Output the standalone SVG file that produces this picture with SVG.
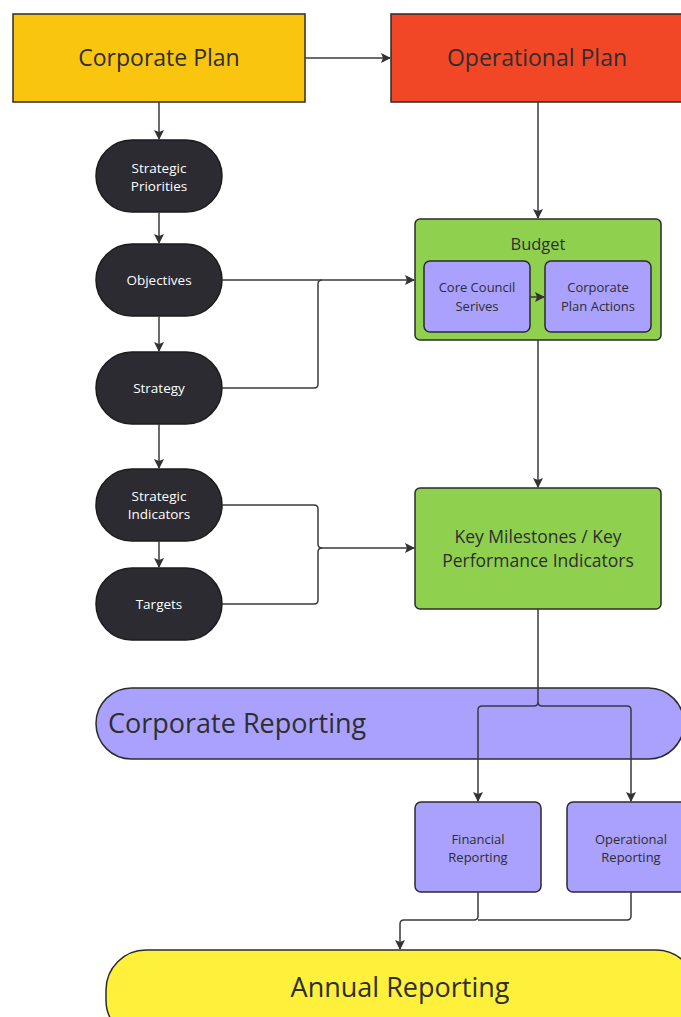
<svg xmlns="http://www.w3.org/2000/svg" width="681" height="1017" viewBox="0 0 681 1017">
<style>
text{font-family:"Open Sans","Noto Sans","Liberation Sans",sans-serif;fill:#2e2e2e;text-anchor:middle}
.pill{fill:#2b2b31;stroke:#1b1b1b;stroke-width:1.5}
.pt{fill:#ffffff;font-size:13.5px}
.ln{fill:none;stroke:#3a3a3a;stroke-width:1.5}
.sb{stroke:#2b2b2b;stroke-width:1.5}
.purple{fill:#a9a1fd}
.green{fill:#8fd14f}
</style>
<defs>
<marker id="ah" viewBox="0 0 10 10" refX="9" refY="5" markerWidth="10" markerHeight="10" markerUnits="userSpaceOnUse" orient="auto">
<path d="M0,0 L10,5 L0,10 L2,5 z" fill="#333"/>
</marker>
</defs>
<g id="corporate-plan">
<rect x="13" y="14" width="292" height="88" fill="#f9c50f" class="sb"/>
<text x="159" y="66" font-size="23">Corporate Plan</text>
</g>
<g id="operational-plan">
<rect x="391" y="14" width="293" height="88" fill="#f24727" class="sb"/>
<text x="537" y="66" font-size="23">Operational Plan</text>
</g>
<g id="strategic-priorities">
<rect x="96" y="140" width="126" height="72" rx="36" class="pill"/>
<text x="159" y="173" class="pt">Strategic</text>
<text x="159" y="191" class="pt">Priorities</text>
</g>
<g id="objectives">
<rect x="96" y="244" width="126" height="72" rx="36" class="pill"/>
<text x="159" y="285" class="pt">Objectives</text>
</g>
<g id="strategy">
<rect x="96" y="352" width="126" height="72" rx="36" class="pill"/>
<text x="159" y="393" class="pt">Strategy</text>
</g>
<g id="strategic-indicators">
<rect x="96" y="469" width="126" height="72" rx="36" class="pill"/>
<text x="159" y="501" class="pt">Strategic</text>
<text x="159" y="519" class="pt">Indicators</text>
</g>
<g id="targets">
<rect x="96" y="568" width="126" height="72" rx="36" class="pill"/>
<text x="159" y="609" class="pt">Targets</text>
</g>
<g id="budget">
<rect x="415" y="219" width="246" height="121" rx="5" class="green sb"/>
<text x="538" y="250" font-size="16.5">Budget</text>
</g>
<g id="core-council-serives">
<rect x="424" y="261" width="106" height="71" rx="6" class="purple sb"/>
<text x="477" y="292" font-size="13">Core Council</text>
<text x="477" y="311" font-size="13">Serives</text>
</g>
<g id="corporate-plan-actions">
<rect x="545" y="261" width="106" height="71" rx="6" class="purple sb"/>
<text x="598" y="292" font-size="13">Corporate</text>
<text x="598" y="311" font-size="13">Plan Actions</text>
</g>
<g id="kpi">
<rect x="415" y="488" width="246" height="121" rx="5" class="green sb"/>
<text x="538" y="543" font-size="17.5">Key Milestones / Key</text>
<text x="538" y="567" font-size="17.5">Performance Indicators</text>
</g>
<g id="corporate-reporting">
<rect x="96" y="688" width="588" height="71" rx="35.5" class="purple sb"/>
<text x="108" y="733" font-size="27" style="text-anchor:start">Corporate Reporting</text>
</g>
<g id="financial-reporting">
<rect x="415" y="802" width="126" height="90" rx="6" class="purple sb"/>
<text x="478" y="844" font-size="13">Financial</text>
<text x="478" y="862" font-size="13">Reporting</text>
</g>
<g id="operational-reporting">
<rect x="567" y="802" width="128" height="90" rx="6" class="purple sb"/>
<text x="631" y="844" font-size="13">Operational</text>
<text x="631" y="862" font-size="13">Reporting</text>
</g>
<g id="annual-reporting">
<rect x="106" y="950" width="590" height="90" rx="40" fill="#fff03b" class="sb"/>
<text x="400" y="997" font-size="27">Annual Reporting</text>
</g>
<g id="connectors" class="ln">
<path d="M305,58 H390" marker-end="url(#ah)"/>
<path d="M159,102 V139" marker-end="url(#ah)"/>
<path d="M159,212 V243" marker-end="url(#ah)"/>
<path d="M159,316 V351" marker-end="url(#ah)"/>
<path d="M159,424 V468" marker-end="url(#ah)"/>
<path d="M159,541 V567" marker-end="url(#ah)"/>
<path d="M538,102 V218" marker-end="url(#ah)"/>
<path d="M222,280 H414" marker-end="url(#ah)"/>
<path d="M222,388 H314 Q318,388 318,384 V284 Q318,280 322,280"/>
<path d="M530,297 H544" marker-end="url(#ah)"/>
<path d="M538,340 V487" marker-end="url(#ah)"/>
<path d="M222,505 H314 Q318,505 318,509 V544 Q318,548 322,548 H414" marker-end="url(#ah)"/>
<path d="M222,604 H314 Q318,604 318,600 V552 Q318,548 322,548"/>
<path d="M538,609 V702 Q538,706 534,706 H482 Q478,706 478,710 V801" marker-end="url(#ah)"/>
<path d="M538,702 Q538,706 542,706 H627 Q631,706 631,710 V801" marker-end="url(#ah)"/>
<path d="M478,892 V916 Q478,920 474,920 H404 Q400,920 400,924 V949" marker-end="url(#ah)"/>
<path d="M631,892 V916 Q631,920 627,920 H478"/>
</g>
</svg>
